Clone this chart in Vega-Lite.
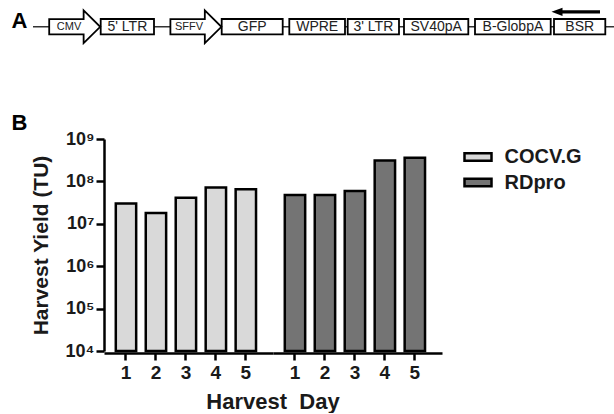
{
  "$schema": "https://vega.github.io/schema/vega-lite/v6.json",
  "padding": {"left": 11, "top": 0, "right": 0, "bottom": 0},
  "bounds": "flush",
  "spacing": 8,
  "config": {"view": {"stroke": null}, "font": "Liberation Sans"},
  "resolve": {"legend": {"color": "independent"}},
  "datasets": {
    "construct": [
      {"element": "CMV", "kind": "promoter", "start": 49.3, "end": 100, "mid": 74.7, "label_at": 69},
      {"element": "5' LTR", "kind": "box", "start": 100.7, "end": 154, "mid": 127.4, "label_at": 127.4},
      {"element": "SFFV", "kind": "promoter", "start": 170, "end": 221.7, "mid": 195.9, "label_at": 189},
      {"element": "GFP", "kind": "box", "start": 221.7, "end": 282.7, "mid": 252.2, "label_at": 252.2},
      {"element": "WPRE", "kind": "box", "start": 289.3, "end": 345, "mid": 317.2, "label_at": 317.2},
      {"element": "3' LTR", "kind": "box", "start": 347.7, "end": 399, "mid": 373.4, "label_at": 373.4},
      {"element": "SV40pA", "kind": "box", "start": 404, "end": 468.3, "mid": 436.2, "label_at": 436.2},
      {"element": "B-GlobpA", "kind": "box", "start": 475, "end": 550.7, "mid": 512.9, "label_at": 512.9},
      {"element": "BSR", "kind": "box", "start": 554, "end": 605.3, "mid": 579.7, "label_at": 579.7}
    ],
    "yields": [
      {"vector": "COCV.G", "day": 1, "yield": 30000000},
      {"vector": "COCV.G", "day": 2, "yield": 18000000},
      {"vector": "COCV.G", "day": 3, "yield": 41000000},
      {"vector": "COCV.G", "day": 4, "yield": 72000000},
      {"vector": "COCV.G", "day": 5, "yield": 65000000},
      {"vector": "RDpro", "day": 1, "yield": 48000000},
      {"vector": "RDpro", "day": 2, "yield": 48000000},
      {"vector": "RDpro", "day": 3, "yield": 59000000},
      {"vector": "RDpro", "day": 4, "yield": 310000000},
      {"vector": "RDpro", "day": 5, "yield": 360000000}
    ]
  },
  "vconcat": [
    {
      "width": 510,
      "height": 131,
      "layer": [
        {
          "data": {"values": [{"segment": "vector backbone", "from": 33, "to": 614}]},
          "mark": {"type": "rule", "color": "#333333", "strokeWidth": 1.5},
          "encoding": {
            "x": {"field": "from", "type": "quantitative", "scale": {"domain": [0, 614], "range": [-104, 510], "nice": false, "zero": false}, "axis": null},
            "x2": {"field": "to"},
            "y": {"datum": 26.7, "type": "quantitative", "scale": {"domain": [0, 131], "range": [0, 131], "nice": false, "zero": false}, "axis": null}
          }
        },
        {
          "data": {"name": "construct"},
          "transform": [{"filter": "datum.kind === 'box'"}],
          "mark": {"type": "rect", "fill": "white", "stroke": "black", "strokeWidth": 1.8},
          "encoding": {
            "x": {"field": "start", "type": "quantitative", "axis": null},
            "x2": {"field": "end"},
            "y": {"datum": 19, "type": "quantitative", "axis": null},
            "y2": {"datum": 34.3}
          }
        },
        {
          "data": {"name": "construct"},
          "transform": [{"filter": "datum.kind === 'promoter'"}],
          "mark": {"type": "point", "shape": "M-1,-0.3L0.35,-0.3L0.35,-0.64L1,0L0.35,0.64L0.35,0.3L-1,0.3Z", "size": 2601, "filled": true, "fill": "white", "stroke": "black", "strokeWidth": 1.8, "opacity": 1},
          "encoding": {
            "x": {"field": "mid", "type": "quantitative", "axis": null},
            "y": {"datum": 26.8, "type": "quantitative", "axis": null}
          }
        },
        {
          "data": {"name": "construct"},
          "transform": [{"filter": "datum.kind === 'box'"}],
          "mark": {"type": "text", "fontSize": 14, "color": "#222222", "baseline": "middle", "align": "center"},
          "encoding": {
            "x": {"field": "label_at", "type": "quantitative", "axis": null},
            "y": {"datum": 27, "type": "quantitative", "axis": null},
            "text": {"field": "element"}
          }
        },
        {
          "data": {"name": "construct"},
          "transform": [{"filter": "datum.kind === 'promoter'"}],
          "mark": {"type": "text", "fontSize": 11, "color": "#222222", "baseline": "middle", "align": "center"},
          "encoding": {
            "x": {"field": "label_at", "type": "quantitative", "axis": null},
            "y": {"datum": 27, "type": "quantitative", "axis": null},
            "text": {"field": "element"}
          }
        },
        {
          "data": {"values": [{"feature": "BSR orientation", "tail": 600, "head": 557}]},
          "mark": {"type": "rule", "color": "black", "strokeWidth": 3.2},
          "encoding": {
            "x": {"field": "tail", "type": "quantitative", "axis": null},
            "x2": {"field": "head"},
            "y": {"datum": 11.8, "type": "quantitative", "axis": null}
          }
        },
        {
          "data": {"values": [{"feature": "BSR orientation", "tail": 600, "head": 557}]},
          "mark": {"type": "point", "shape": "M-1,0L1,-0.75L1,0.75Z", "size": 121, "filled": true, "color": "black", "opacity": 1},
          "encoding": {
            "x": {"field": "head", "type": "quantitative", "axis": null},
            "y": {"datum": 11.8, "type": "quantitative", "axis": null}
          }
        },
        {
          "data": {"values": [{"panel": "A"}]},
          "mark": {"type": "text", "fontSize": 22, "fontWeight": "bold", "color": "black", "align": "left", "baseline": "alphabetic"},
          "encoding": {
            "x": {"datum": 11.5, "type": "quantitative", "axis": null},
            "y": {"datum": 28, "type": "quantitative", "axis": null},
            "text": {"field": "panel"}
          }
        },
        {
          "data": {"values": [{"panel": "B"}]},
          "mark": {"type": "text", "fontSize": 22, "fontWeight": "bold", "color": "black", "align": "left", "baseline": "alphabetic"},
          "encoding": {
            "x": {"datum": 11.5, "type": "quantitative", "axis": null},
            "y": {"datum": 130, "type": "quantitative", "axis": null},
            "text": {"field": "panel"}
          }
        }
      ]
    },
    {
      "data": {"name": "yields"},
      "facet": {
        "column": {
          "field": "vector",
          "type": "nominal",
          "sort": ["COCV.G", "RDpro"],
          "header": {"title": "Harvest\u00a0\u00a0Day", "titleOrient": "bottom", "labels": false, "titleFontSize": 22, "titleFontWeight": "bold", "titleColor": "#1a1a1a", "titlePadding": 0, "titleFont": "Liberation Sans"}
        }
      },
      "spacing": 0,
      "spec": {
        "width": 169,
        "height": 212,
        "mark": {"type": "bar", "stroke": "black", "strokeWidth": 2.5},
        "encoding": {
          "x": {
            "field": "day", "type": "ordinal",
            "scale": {"paddingInner": 0.32, "paddingOuter": 0.48, "align": 0.41},
            "axis": {"title": null, "labelAngle": 0, "labelFontSize": 19, "labelFontWeight": "bold", "labelColor": "#1a1a1a", "tickSize": 7, "tickWidth": 2.5, "tickColor": "black", "domainColor": "black", "domainWidth": 2.5, "labelPadding": 3, "grid": false}
          },
          "y": {
            "field": "yield", "type": "quantitative",
            "scale": {"type": "log", "domain": [10000, 1000000000], "nice": false},
            "axis": {
              "title": "Harvest Yield (TU)", "titleFontSize": 21, "titleFontWeight": "bold", "titleColor": "#1a1a1a", "titlePadding": 14,
              "values": [10000, 100000, 1000000, 10000000, 100000000, 1000000000],
              "labelExpr": "'10' + ['⁰','¹','²','³','⁴','⁵','⁶','⁷','⁸','⁹'][round(log(datum.value)/LN10)]",
              "labelFontSize": 18, "labelFontWeight": "bold", "labelColor": "#1a1a1a", "labelPadding": 2,
              "tickSize": 8, "tickWidth": 2.5, "tickColor": "black", "domainColor": "black", "domainWidth": 2.5, "grid": false
            }
          },
          "y2": {"datum": 10000},
          "color": {
            "field": "vector", "type": "nominal",
            "scale": {"domain": ["COCV.G", "RDpro"], "range": ["#d9d9d9", "#747474"]},
            "legend": {
              "title": null, "orient": "right", "offset": 18, "padding": 6.5,
              "symbolType": "M-1.35,-0.375L1.35,-0.375L1.35,0.375L-1.35,0.375Z", "symbolSize": 400,
              "symbolStrokeColor": "black", "symbolStrokeWidth": 2.5, "symbolOpacity": 1,
              "labelFontSize": 20, "labelFontWeight": "bold", "labelColor": "#1a1a1a", "labelOffset": 15, "rowPadding": 3.6
            }
          }
        }
      }
    }
  ]
}
